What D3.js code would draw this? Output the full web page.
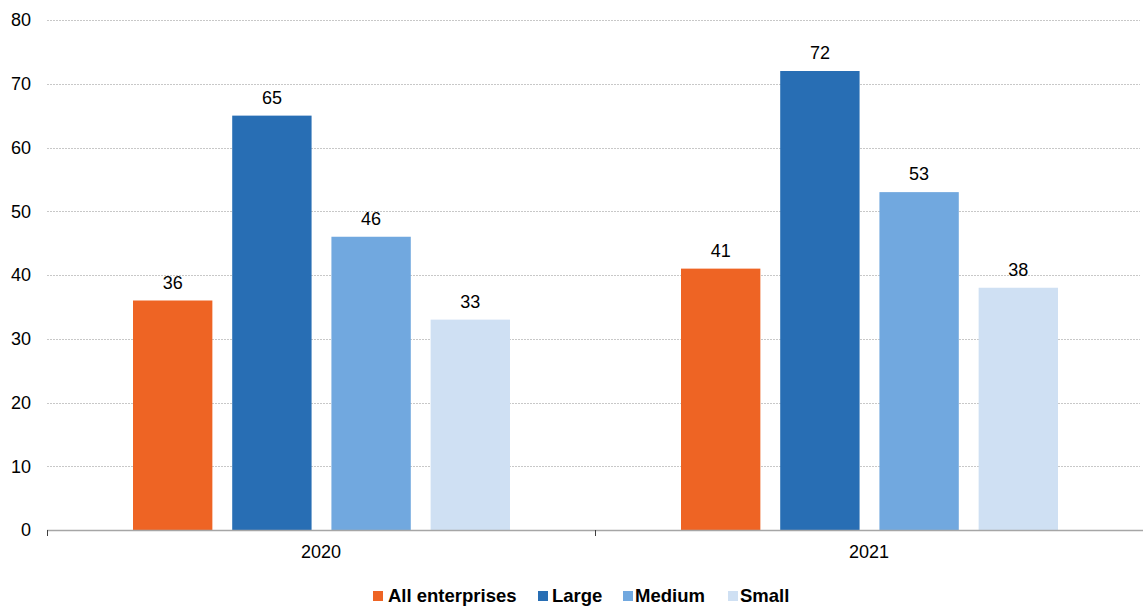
<!DOCTYPE html>
<html>
<head>
<meta charset="utf-8">
<script src="https://cdn.jsdelivr.net/npm/d3@7"></script>
<style>
  body { margin: 0; background: #fff; }
  svg { display: block; font-family: Arial, "Liberation Sans", sans-serif; }
</style>
</head>
<body>
<div id="chart"></div>
<script>
// Chart data
const years = ["2020", "2021"];
const sizeClasses = ["All enterprises", "Large", "Medium", "Small"];
const values2020 = [36, 65, 46, 33];
const values2021 = [41, 72, 53, 38];
const yTicks = [0, 10, 20, 30, 40, 50, 60, 70, 80];
const colors = ["#ee6424", "#286eb4", "#71a8df", "#cfe0f3"];

const width = 1144;
const height = 607;
const margin = {top: 20, right: 1, bottom: 77, left: 47};
const font_size = 18;

const seriesByYear = [values2020, values2021];

function drawChart() {
    const svg = d3.select("#chart").append("svg")
        .attr("width", width)
        .attr("height", height);

    const x0 = d3.scaleBand()
        .domain(years)
        .range([margin.left, width - margin.right])
        .padding(0);

    // inner scale for bars inside each year group
    const x1 = d3.scaleBand()
        .domain(sizeClasses)
        .range([86, 463])
        .paddingInner(0.2)
        .paddingOuter(0);

    const y = d3.scaleLinear()
        .domain([0, 80])
        .range([height - margin.bottom, margin.top]);

    // Gridlines
    svg.append("g")
        .selectAll("line")
        .data(yTicks.filter(d => d > 0))
        .join("line")
        .attr("x1", margin.left)
        .attr("x2", width - 4)
        .attr("y1", d => Math.round(y(d)) + 0.5)
        .attr("y2", d => Math.round(y(d)) + 0.5)
        .attr("stroke", "#c8c8c8")
        .attr("stroke-width", 1)
        .attr("stroke-dasharray", "2,1");

    // Y tick labels
    svg.append("g")
        .selectAll("text")
        .data(yTicks)
        .join("text")
        .attr("x", 31)
        .attr("y", d => y(d))
        .attr("dy", "0.35em")
        .attr("text-anchor", "end")
        .attr("font-size", font_size)
        .attr("fill", "#000")
        .text(d => d);

    // Bars
    const groups = svg.append("g")
        .selectAll("g")
        .data(years)
        .join("g")
        .attr("transform", d => `translate(${x0(d)},0)`);

    groups.selectAll("rect")
        .data((d, i) => seriesByYear[i].map((v, j) => ({key: sizeClasses[j], value: v, color: colors[j]})))
        .join("rect")
        .attr("x", d => x1(d.key))
        .attr("width", x1.bandwidth())
        .attr("y", d => y(d.value))
        .attr("height", d => y(0) - y(d.value))
        .attr("fill", d => d.color);

    // Value labels
    groups.selectAll("text")
        .data((d, i) => seriesByYear[i].map((v, j) => ({key: sizeClasses[j], value: v})))
        .join("text")
        .attr("x", d => x1(d.key) + x1.bandwidth() / 2)
        .attr("y", d => y(d.value) - 12)
        .attr("text-anchor", "middle")
        .attr("font-size", font_size)
        .attr("fill", "#000")
        .text(d => d.value);

    // X axis line
    svg.append("line")
        .attr("x1", margin.left)
        .attr("x2", width - 1)
        .attr("y1", y(0) + 0.5)
        .attr("y2", y(0) + 0.5)
        .attr("stroke", "#a6a6a6")
        .attr("stroke-width", 1.5);

    // X axis ticks between groups
    const tickXs = [margin.left].concat(years.map(d => x0(d) + x0.bandwidth()));
    svg.append("g")
        .selectAll("line")
        .data(tickXs.slice(0, 2))
        .join("line")
        .attr("x1", d => Math.round(d) + 0.5)
        .attr("x2", d => Math.round(d) + 0.5)
        .attr("y1", y(0))
        .attr("y2", y(0) + 6)
        .attr("stroke", "#404040")
        .attr("stroke-width", 1);

    // X labels
    svg.append("g")
        .selectAll("text")
        .data(years)
        .join("text")
        .attr("x", d => x0(d) + x0.bandwidth() / 2)
        .attr("y", y(0) + 28)
        .attr("text-anchor", "middle")
        .attr("font-size", font_size)
        .attr("fill", "#000")
        .text(d => d);

    // Legend
    const legendX = [373, 538, 623, 728];
    const legendGap = [15, 14, 12, 12];
    const legend = svg.append("g")
        .selectAll("g")
        .data(sizeClasses)
        .join("g")
        .attr("transform", (d, i) => `translate(${legendX[i]},596)`);

    legend.append("rect")
        .attr("x", 0)
        .attr("y", -5)
        .attr("width", 10)
        .attr("height", 10)
        .attr("fill", (d, i) => colors[i]);

    legend.append("text")
        .attr("x", (d, i) => legendGap[i])
        .attr("dy", "0.35em")
        .attr("font-size", 18.5)
        .attr("font-weight", "bold")
        .attr("fill", "#000")
        .text(d => d);
}

drawChart();
</script>
</body>
</html>
